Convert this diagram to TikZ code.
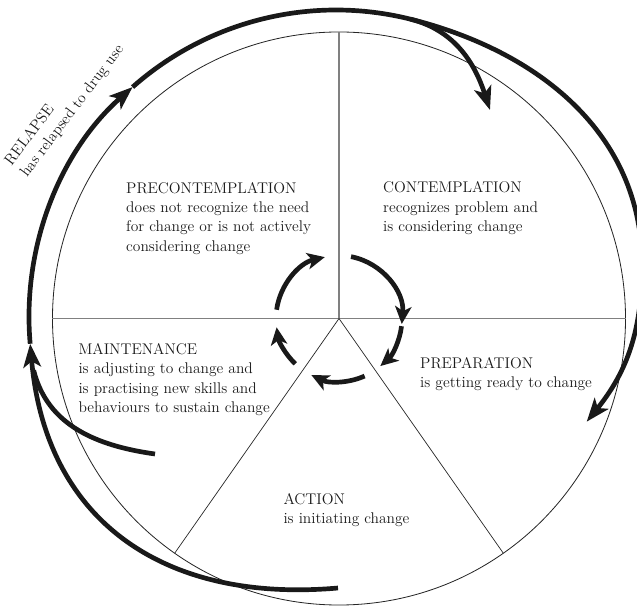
\documentclass[tikz,border=0pt]{standalone}
\usepackage{fontspec}
\usepackage{tikz}
\usetikzlibrary{arrows.meta, positioning}
\tikzset{%
    % Wheel and the lines that cut it into stages
    wheel/.style     = {draw=black!85, line width=0.7pt, circle, inner sep=0pt,
    outer sep=0pt, minimum size=17.19cm},
    axis/.style      = {draw=black!50, line width=1pt},
    spoke/.style     = {draw=black!85, line width=0.6pt},
    % Stage texts
    stage/.style     = {align=left, inner sep=0pt, anchor=north west, text=black!90,
    font=\fontsize{13.2}{16.5}\selectfont},
    % Thick arrows round and inside the wheel
    loopline/.style  = {draw=black!90, line width=4pt},
    bigtip/.style    = {-{Stealth[length=20pt, width=15pt, inset=5pt]}},
    innerarrow/.style= {draw=black!90, line width=4pt,
    -{Stealth[length=15pt, width=14pt, inset=4pt]}}
}
\begin{document}
\begin{tikzpicture}[x=0.03cm, y=0.03cm]
	\useasboundingbox (0,0) rectangle (637,605);
	\node[wheel] (wheel) at (339,286.5) {};
	\draw[axis] (wheel.west) -- (wheel.east);
	\draw[axis] (wheel.center) -- (wheel.north);
	\draw[spoke] (wheel.center) -- (wheel.-55.5);
	\draw[spoke] (wheel.center) -- (wheel.235.5);
	
	% inner cycle
	\foreach \a/\b in {172/103, 79/-5, -7/-49, -66/-116, -134/-172}
	\draw[innerarrow] ([shift={(\a:63)}]wheel.center) arc[start angle=\a, end angle=\b, radius=63];
	
	% outer loop
	\coordinate (ring) at (336,288);
	\coordinate (rs) at (338,17);
	\coordinate (a1) at ([shift={(185:307)}]ring);
	\coordinate (a2) at ([shift={(131.5:307)}]ring);
	\coordinate (s) at ([shift={(76:307)}]ring);
	\coordinate (r1) at (642,340);
	\coordinate (e) at (586.7,183.3);
	\coordinate (d) at (490,495);
	\coordinate (m0) at (155,151);
	\coordinate (mj) at ([shift={(190:307)}]ring);
	\draw[loopline, bigtip] (rs) to[out=185, in=-85, looseness=1.15] (a1);
	\draw[loopline, bigtip] (a1) arc[start angle=185, end angle=131.5, radius=307];
	\draw[loopline, bigtip] (a2) arc[start angle=131.5, end angle=76, radius=307]
	to[out=-14, in=90] (r1) to[out=-90, in=51] (e);
	\draw[loopline, bigtip] (s) to[out=-14, in=108] (d);
	\draw[loopline] (m0) to[out=172, in=-76] (mj);
	
	\node[stage] (precon) at (126,423) {PRECONTEMPLATION\\does not recognize the need\\for change or is not actively\\considering change};
	\node[stage] (contemp) at (383,423.3) {CONTEMPLATION\\recognizes problem and\\is considering change};
	\node[stage] (maint) at (78.3,261.7) {MAINTENANCE\\is adjusting to change and\\is practising new skills and\\behaviours to sustain change};
	\node[stage] (prep) at (420,247.7) {PREPARATION\\is getting ready to change};
	\node[stage] (action) at (283.3,111.7) {ACTION\\is initiating change};
	\node[stage, rotate=53] (relapse) at (2.5,445.5) {RELAPSE\\has relapsed to drug use};
\end{tikzpicture}
\end{document}
